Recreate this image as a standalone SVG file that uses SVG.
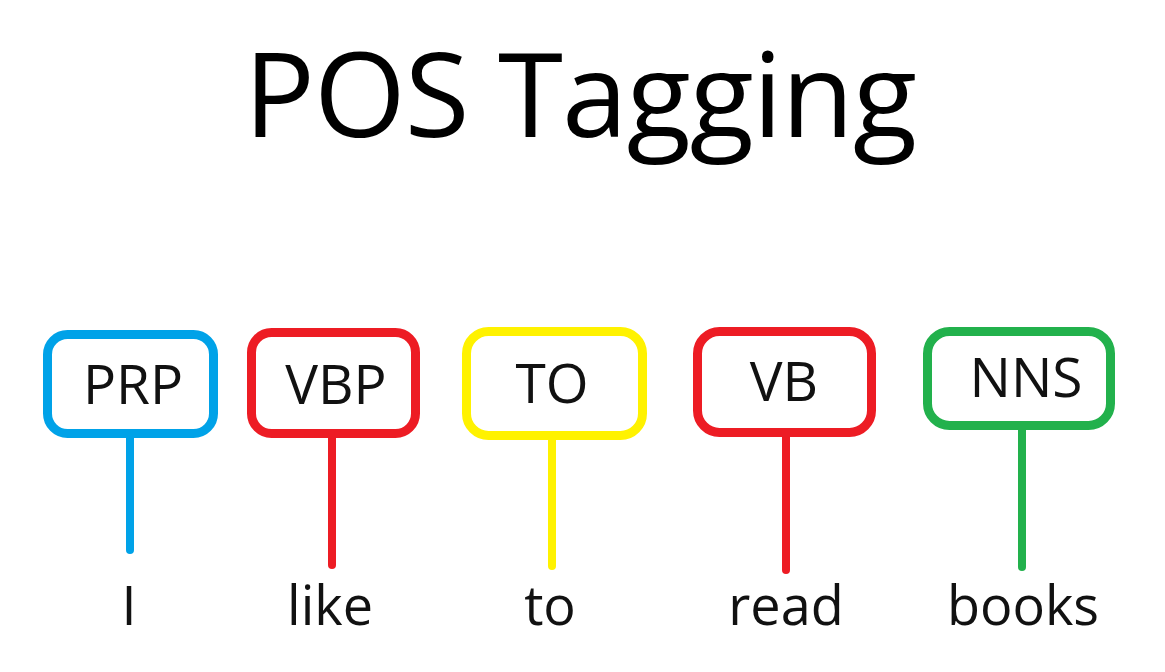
<svg xmlns="http://www.w3.org/2000/svg" width="1165" height="672" viewBox="0 0 1165 672">
<style>
.box{fill:#fff;stroke-width:9}
.stem{stroke-width:8;stroke-linecap:round;fill:none}
.lbl{font-family:"Open Sans","Liberation Sans",sans-serif;font-size:55px;fill:#111;text-anchor:middle}
.word{font-family:"Open Sans","Liberation Sans",sans-serif;font-size:54px;fill:#111;text-anchor:middle}
.title{font-family:"Open Sans","Liberation Sans",sans-serif;font-size:118px;font-weight:500;letter-spacing:-1px;fill:#000;text-anchor:middle}
.blue{stroke:#00a2e8}.red{stroke:#ed1c24}.yellow{stroke:#fff200}.green{stroke:#22b14c}
</style>
<rect width="1165" height="672" fill="#fff"/>
<text class="title" x="580" y="137">POS Tagging</text>
<g id="connectors">
<line class="stem blue" x1="130" y1="438" x2="130" y2="550"/>
<line class="stem red" x1="332" y1="438" x2="332" y2="565"/>
<line class="stem yellow" x1="552" y1="440" x2="552" y2="566"/>
<line class="stem red" x1="786" y1="437" x2="786" y2="570"/>
<line class="stem green" x1="1022" y1="430" x2="1022" y2="567"/>
</g>
<g id="prp">
<rect class="box blue" x="47.5" y="334.5" width="166" height="99" rx="20"/>
<text class="lbl" x="133" y="404">PRP</text>
<text class="word" x="129" y="625">I</text>
</g>
<g id="vbp">
<rect class="box red" x="251.5" y="332.5" width="164" height="101" rx="20"/>
<text class="lbl" x="336" y="404">VBP</text>
<text class="word" x="330" y="625">like</text>
</g>
<g id="to">
<rect class="box yellow" x="466.5" y="331.5" width="176" height="104" rx="22"/>
<text class="lbl" x="552" y="403">TO</text>
<text class="word" x="550" y="625">to</text>
</g>
<g id="vb">
<rect class="box red" x="697.5" y="331.5" width="174" height="101" rx="22"/>
<text class="lbl" x="784" y="401">VB</text>
<text class="word" x="786" y="625">read</text>
</g>
<g id="nns">
<rect class="box green" x="927.5" y="331.5" width="183" height="94" rx="22"/>
<text class="lbl" x="1026" y="397">NNS</text>
<text class="word" x="1023" y="625">books</text>
</g>
</svg>
